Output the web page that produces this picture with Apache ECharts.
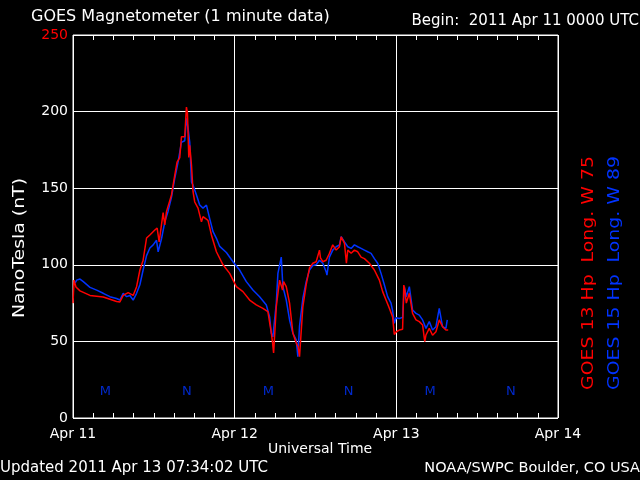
<!DOCTYPE html>
<html>
<head>
<meta charset="utf-8">
<script src="https://cdn.jsdelivr.net/npm/echarts@6/dist/echarts.min.js"></script>
<style>
  html, body { margin: 0; padding: 0; background: #000; }
  #chart { width: 640px; height: 480px; }
</style>
</head>
<body>
<div id="chart"></div>
<script>
// hours since 2011 Apr 11 00:00 UTC
var dayLabels = ['Apr 11', 'Apr 12', 'Apr 13', 'Apr 14']
var yTicks = [0, 50, 100, 150, 200, 250]

// GOES 13 Hp (red)
var goes13 = [
  [0.0, 75], [0.15, 90], [0.44, 85.5], [1.04, 83], [2.52, 80], [4.49, 79], [6.47, 76],
  [6.96, 75.7], [7.45, 80], [8.19, 81.8], [8.93, 80], [9.44, 85.7], [9.93, 96.6],
  [10.41, 103], [10.92, 117.5], [11.41, 119.5], [12.15, 122.7], [12.49, 124], [12.79, 115],
  [13.38, 134], [13.63, 126], [13.88, 134.7], [14.62, 145.6], [15.11, 158.6], [15.45, 167],
  [15.85, 170], [16.10, 183.6], [16.59, 183.6], [16.84, 203], [16.99, 199], [17.19, 170],
  [17.33, 178], [17.59, 165], [17.82, 147.7], [18.07, 141], [18.56, 137], [19.07, 128],
  [19.30, 131.4], [20.04, 129], [20.55, 119.5], [21.29, 108.5], [22.27, 100], [23.26, 94.4],
  [24.25, 85.7], [25.23, 82.5], [26.22, 77], [27.21, 73.8], [28.19, 71.6], [28.93, 69.4],
  [29.44, 55.5], [29.63, 49], [29.78, 42.4], [30.18, 72.6], [30.67, 90], [31.11, 83.5],
  [31.26, 89], [31.66, 85.7], [32.15, 75], [32.64, 55.5], [33.14, 49], [33.41, 46.5],
  [33.63, 40], [34.12, 72.6], [34.62, 87], [35.11, 98], [35.60, 101], [36.10, 102],
  [36.59, 109.6], [36.74, 104.5], [37.08, 102], [37.58, 103], [38.07, 107.5], [38.56, 113],
  [39.07, 109.6], [39.56, 111.8], [39.81, 118.3], [40.30, 114], [40.59, 101], [40.79, 109.6],
  [41.29, 107.5], [41.78, 109.6], [42.27, 108.5], [42.77, 105], [43.26, 104], [44.00, 101],
  [44.74, 96.6], [45.48, 90], [45.97, 82.5], [46.47, 77], [46.96, 71.6], [47.45, 66],
  [47.70, 54.5], [48.0, 56.3], [48.44, 57.4], [48.93, 57.9], [49.11, 86.8], [49.26, 83.5],
  [49.48, 75], [49.93, 81.4], [50.41, 68.3], [50.92, 64], [51.41, 62.9], [51.90, 60.7],
  [52.22, 49.8], [52.40, 54.2], [52.89, 58.5], [53.38, 54], [53.88, 56.3], [54.37, 64],
  [54.86, 59.6], [55.36, 57.4], [55.70, 57.4]
]

// GOES 15 Hp (blue)
var goes15 = [
  [0.30, 88], [0.55, 90], [1.04, 90.7], [1.53, 89], [2.52, 85.3], [3.51, 83.5], [4.49, 81.4],
  [5.48, 79.2], [6.47, 78], [6.96, 77], [7.45, 81.4], [7.96, 79.2], [8.44, 80], [8.93, 77],
  [9.44, 81.4], [9.93, 87], [10.41, 96.6], [10.92, 106], [11.41, 111], [11.90, 113],
  [12.40, 116], [12.64, 108.5], [13.14, 117], [13.63, 128], [14.12, 135], [14.62, 144],
  [15.11, 156.5], [15.60, 167], [16.10, 180], [16.59, 181], [16.84, 195.6], [17.08, 189],
  [17.33, 180], [17.59, 154], [17.82, 152], [18.33, 145.6], [18.81, 139], [19.30, 137],
  [19.81, 139], [20.04, 140], [20.30, 130], [20.79, 121.6], [21.29, 117.3], [21.78, 112],
  [22.77, 108], [23.75, 102], [24.74, 96.6], [25.73, 89], [26.71, 83.5], [27.70, 79.2],
  [28.70, 73.8], [29.19, 66], [29.44, 55.3], [29.67, 53], [30.18, 75], [30.42, 94.4],
  [30.92, 105], [31.16, 85.7], [31.66, 77], [32.15, 64], [32.64, 55.3], [33.14, 51],
  [33.38, 40], [33.63, 60], [34.12, 78], [34.62, 89], [35.11, 96.6], [35.60, 99.5],
  [36.10, 100], [36.59, 103], [37.08, 101], [37.58, 95.5], [37.70, 93.3], [38.07, 105],
  [38.56, 109.6], [39.07, 111.8], [39.56, 113], [39.81, 118.3], [40.30, 115], [40.79, 111.8],
  [41.29, 110.7], [41.78, 113], [42.27, 111.8], [42.77, 110.7], [43.26, 109.6], [43.75, 108.5],
  [44.25, 107.5], [44.74, 104], [45.23, 101], [45.73, 94.4], [46.22, 87], [46.71, 79.2],
  [47.21, 75], [47.45, 70], [47.70, 61.8], [47.96, 65.5], [48.44, 65], [48.93, 65.7],
  [49.19, 85.7], [49.48, 79.2], [49.93, 85.7], [50.41, 70.5], [50.92, 68.3], [51.41, 67.2],
  [51.90, 64], [52.40, 58.5], [52.89, 63], [53.38, 57.4], [53.88, 59.6], [54.37, 71.6],
  [54.86, 59.6], [55.36, 58.5], [55.56, 64]
]

// local midnight / noon markers
var markerHours = [4.8, 16.9, 29, 40.9, 53, 65]
var markerLetters = ['M', 'N', 'M', 'N', 'M', 'N']
var markerLevel = 17

var RED = '#ff0000'
var BLUE = '#0033ff'
var FONT = 'DejaVu Sans'

var xAxisBase = {
  type: 'value',
  min: 0,
  max: 72,
  interval: 24,
  axisLine: { show: false },
  axisTick: { show: true, inside: true, length: 5, lineStyle: { color: '#fff' } },
  minorTick: { show: true, splitNumber: 8, length: 5, lineStyle: { color: '#fff' } },
  splitLine: { show: false }
}

var chart = echarts.init(document.getElementById('chart'))
chart.setOption({
  backgroundColor: '#000',
  animation: false,
  grid: {
    left: 73, right: 82, top: 35, bottom: 62,
    show: true, borderColor: '#fff', borderWidth: 1, backgroundColor: 'transparent'
  },
  xAxis: [
    Object.assign({}, xAxisBase, {
      position: 'bottom',
      splitLine: { show: true, lineStyle: { color: '#fff', width: 1 } },
      axisLabel: {
        color: '#fff', fontFamily: FONT, fontSize: 14, margin: 9,
        formatter: function (v) { return dayLabels[v / 24] }
      }
    }),
    Object.assign({}, xAxisBase, {
      position: 'top',
      axisLabel: { show: false }
    })
  ],
  yAxis: {
    type: 'value',
    min: 0,
    max: 250,
    interval: 50,
    axisLine: { show: false },
    axisTick: { show: false },
    splitLine: { show: true, lineStyle: { color: '#fff', width: 1 } },
    axisLabel: {
      fontFamily: FONT, fontSize: 14, margin: 5,
      color: function (v) { return Number(v) === yTicks[yTicks.length - 1] ? RED : '#fff' }
    }
  },
  series: [
    {
      name: 'GOES 15',
      type: 'line',
      data: goes15,
      symbol: 'none',
      lineStyle: { color: BLUE, width: 1.5 }
    },
    {
      name: 'GOES 13',
      type: 'line',
      data: goes13,
      symbol: 'none',
      lineStyle: { color: RED, width: 1.5 }
    },
    {
      type: 'scatter',
      symbolSize: 1,
      itemStyle: { color: 'rgba(0,0,0,0)' },
      data: markerHours.map(function (h, i) { return { value: [h, markerLevel], name: markerLetters[i] } }),
      label: {
        show: true, position: 'inside', color: BLUE, fontFamily: FONT, fontSize: 13,
        formatter: function (p) { return p.name }
      }
    }
  ],
  graphic: [
    { type: 'text', left: 31, top: 9, style: { text: 'GOES Magnetometer (1 minute data)', fill: '#fff', font: '16px ' + FONT } },
    { type: 'text', right: 1, top: 14, style: { text: 'Begin:  2011 Apr 11 0000 UTC', fill: '#fff', font: '15px ' + FONT } },
    { type: 'text', left: 268, top: 442, style: { text: 'Universal Time', fill: '#fff', font: '14px ' + FONT } },
    { type: 'text', left: 0, top: 461, style: { text: 'Updated 2011 Apr 13 07:34:02 UTC', fill: '#fff', font: '15px ' + FONT } },
    { type: 'text', right: 0, top: 461, style: { text: 'NOAA/SWPC Boulder, CO USA', fill: '#fff', font: '14.5px ' + FONT } },
    {
      type: 'text', x: 20, y: 248, rotation: Math.PI / 2, scaleX: 1.18,
      style: { text: 'NanoTesla (nT)', fill: '#fff', font: '16px ' + FONT, align: 'center', verticalAlign: 'middle' }
    },
    {
      type: 'text', x: 589, y: 273, rotation: Math.PI / 2, scaleX: 1.18,
      style: { text: 'GOES 13 Hp  Long. W 75', fill: RED, font: '16px ' + FONT, align: 'center', verticalAlign: 'middle' }
    },
    {
      type: 'text', x: 615, y: 273, rotation: Math.PI / 2, scaleX: 1.18,
      style: { text: 'GOES 15 Hp  Long. W 89', fill: BLUE, font: '16px ' + FONT, align: 'center', verticalAlign: 'middle' }
    }
  ]
})
</script>
</body>
</html>
